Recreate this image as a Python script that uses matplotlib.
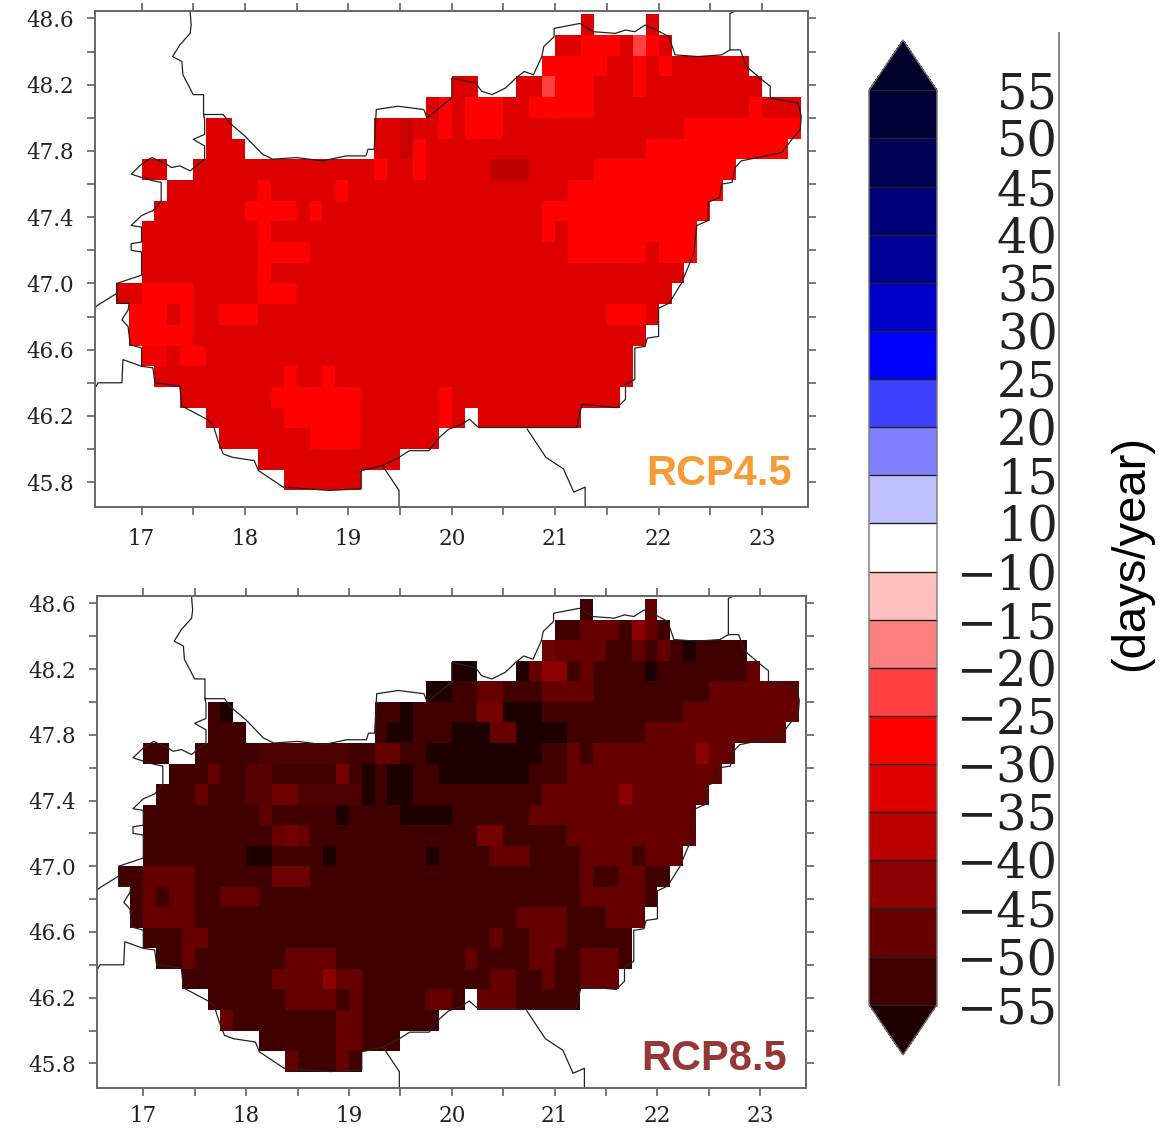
# number of frost days change over Hungary, RCP4.5 and RCP8.5, with shared colorbar
import numpy as np
import matplotlib
matplotlib.use('Agg')
import matplotlib.pyplot as plt
from matplotlib.colors import ListedColormap, BoundaryNorm, LinearSegmentedColormap, Normalize
from matplotlib.lines import Line2D
from matplotlib.cm import ScalarMappable

# colour classes, top of the bar to the bottom
levels = [-55, -50, -45, -40, -35, -30, -25, -20, -15, -10, 10, 15, 20, 25, 30, 35, 40, 45, 50, 55]
colors = ['#1e0000', '#400000', '#660000', '#8c0000', '#bb0000', '#dd0000', '#ff0000',
          '#ff4040', '#ff8080', '#ffc0c0', '#ffffff', '#c0c0ff', '#8080ff', '#4040ff',
          '#0000ff', '#0000cd', '#000096', '#000078', '#000055', '#000037', '#000028']
bar_labels = ['\u221255', '\u221250', '\u221245', '\u221240', '\u221235', '\u221230', '\u221225',
              '\u221220', '\u221215', '\u221210', '10', '15', '20', '25', '30', '35', '40', '45', '50', '55']

# 1/8 degree grid
lon_edges = np.arange(16.75, 23.376, 0.125)
lat_edges = 48.625 - 0.125 * np.arange(24)

# grid cells inside the country, one list of (west, east) per row, north to south
land_spans = [
    [(21.25, 21.375), (21.875, 22.0)],
    [(21.0, 22.125)],
    [(20.875, 22.875)],
    [(20.0, 20.25), (20.625, 23.0)],
    [(19.75, 23.375)],
    [(17.625, 17.875), (19.25, 23.375)],
    [(17.625, 18.0), (19.25, 23.25)],
    [(17.0, 17.25), (17.5, 22.75)],
    [(17.25, 22.625)],
    [(17.125, 22.5)],
    [(17.0, 22.375)],
    [(17.0, 22.375)],
    [(17.0, 22.25)],
    [(16.75, 22.125)],
    [(16.875, 22.0)],
    [(16.875, 21.875)],
    [(17.0, 21.75)],
    [(17.125, 21.75)],
    [(17.375, 21.625)],
    [(17.625, 20.125), (20.25, 21.25)],
    [(17.75, 19.875)],
    [(18.125, 19.5)],
    [(18.375, 19.125)],
]

rcp45_base = -32
# (row, west, east, value)
rcp45_cells = [
    (1, 21.25, 21.625, -27), (1, 21.75, 21.875, -22), (1, 21.875, 22.0, -27),
    (2, 20.875, 21.5, -27), (2, 21.75, 21.875, -27), (2, 22.0, 22.125, -27),
    (3, 20.875, 21.0, -22), (3, 21.0, 21.375, -27), (3, 21.75, 21.875, -27),
    (4, 19.875, 20.0, -27), (4, 20.125, 20.5, -27), (4, 20.75, 21.375, -27), (4, 22.875, 23.0, -27),
    (5, 19.875, 20.0, -27), (5, 20.125, 20.5, -27), (5, 22.25, 23.375, -27), (5, 19.5, 19.625, -35),
    (6, 21.875, 23.25, -27), (6, 19.625, 19.75, -27), (6, 19.5, 19.625, -35),
    (7, 19.25, 19.375, -27), (7, 19.625, 19.75, -27), (7, 20.375, 20.75, -37), (7, 21.375, 22.75, -27),
    (8, 18.125, 18.25, -27), (8, 18.875, 19.0, -27), (8, 21.125, 22.625, -27),
    (9, 18.0, 18.5, -27), (9, 18.625, 18.75, -27), (9, 20.875, 22.5, -27),
    (10, 18.125, 18.25, -27), (10, 20.875, 21.0, -27), (10, 21.125, 22.375, -27),
    (11, 18.125, 18.625, -27), (11, 21.125, 21.875, -27), (11, 22.0, 22.375, -27),
    (12, 18.125, 18.25, -27),
    (13, 17.0, 17.5, -27), (13, 18.125, 18.5, -27),
    (14, 16.875, 17.25, -27), (14, 17.375, 17.5, -27), (14, 17.75, 18.125, -27), (14, 21.5, 21.875, -27),
    (15, 16.875, 17.5, -27),
    (16, 17.0, 17.25, -29), (16, 17.375, 17.625, -27),
    (17, 18.375, 18.5, -27), (17, 18.75, 18.875, -27),
    (18, 18.25, 19.125, -27), (18, 19.875, 20.0, -27),
    (19, 18.375, 19.125, -27), (19, 19.875, 20.0, -27),
    (20, 18.625, 19.125, -27),
]

rcp85_base = -52
rcp85_cells = [
    (0, 21.875, 22.0, -47),
    (1, 21.25, 21.625, -47), (1, 21.75, 21.875, -42), (1, 21.875, 22.0, -47),
    (2, 20.875, 21.0, -46), (2, 21.0, 21.5, -47), (2, 21.75, 21.875, -47), (2, 22.0, 22.125, -47),
    (2, 22.25, 22.375, -57),
    (3, 20.0, 20.25, -57), (3, 20.625, 20.75, -57), (3, 20.75, 20.875, -47), (3, 20.875, 21.125, -42),
    (3, 21.25, 21.375, -47), (3, 21.875, 22.0, -57), (3, 22.875, 23.0, -47),
    (4, 19.75, 20.0, -57), (4, 20.25, 20.5, -47), (4, 20.875, 21.375, -47),
    (4, 22.5, 23.375, -47),
    (5, 17.75, 17.875, -57), (5, 19.5, 19.625, -57), (5, 20.25, 20.5, -45), (5, 20.5, 20.875, -57),
    (5, 22.25, 23.375, -47),
    (6, 19.375, 19.625, -57), (6, 20.0, 20.375, -57), (6, 20.375, 20.625, -47), (6, 20.625, 21.125, -57),
    (6, 21.875, 23.25, -47),
    (7, 18.125, 19.0, -50), (7, 19.25, 19.5, -47), (7, 19.75, 20.875, -57), (7, 21.125, 21.25, -47),
    (7, 21.375, 22.75, -47), (7, 22.375, 22.5, -42),
    (8, 17.625, 17.75, -47), (8, 18.0, 18.25, -49), (8, 18.875, 19.0, -45), (8, 19.125, 19.25, -57),
    (8, 19.375, 19.625, -57), (8, 19.875, 20.75, -57), (8, 21.125, 22.625, -47),
    (9, 17.5, 17.625, -47), (9, 18.0, 18.25, -49), (9, 18.25, 18.5, -46), (9, 18.5, 19.125, -50),
    (9, 19.125, 19.25, -57), (9, 19.375, 19.625, -57),
    (9, 20.875, 21.625, -47), (9, 21.625, 21.75, -42), (9, 21.75, 22.5, -47),
    (10, 18.125, 18.25, -48), (10, 18.875, 19.0, -57), (10, 19.5, 20.0, -57), (10, 20.75, 22.375, -47),
    (11, 18.25, 18.375, -47), (11, 18.375, 18.5, -45), (11, 18.5, 18.625, -47), (11, 20.25, 20.5, -45),
    (11, 21.125, 22.375, -47),
    (12, 18.0, 18.25, -57), (12, 18.75, 18.875, -57), (12, 19.75, 19.875, -57), (12, 20.375, 20.75, -47),
    (12, 21.25, 21.75, -47), (12, 21.875, 22.25, -47),
    (13, 17.0, 17.5, -47), (13, 18.25, 18.625, -46), (13, 21.25, 21.375, -47),
    (13, 21.625, 21.875, -47),
    (14, 17.0, 17.125, -47), (14, 17.25, 17.5, -47), (14, 17.75, 18.125, -47), (14, 21.25, 21.875, -47),
    (15, 17.0, 17.5, -47), (15, 20.625, 21.125, -47), (15, 21.5, 21.875, -47),
    (16, 17.375, 17.625, -47), (16, 20.375, 20.5, -47), (16, 20.75, 21.125, -47),
    (17, 17.375, 17.5, -47), (17, 18.375, 18.875, -47), (17, 20.125, 20.25, -47), (17, 20.75, 21.0, -47),
    (17, 21.25, 21.625, -47),
    (18, 18.25, 19.125, -47), (18, 18.75, 18.875, -42), (18, 20.375, 20.625, -47), (18, 20.875, 21.0, -47),
    (18, 21.25, 21.625, -47),
    (19, 18.375, 18.875, -47), (19, 19.0, 19.125, -47), (19, 19.75, 20.0, -47), (19, 20.25, 20.625, -47),
    (20, 17.75, 17.875, -47), (20, 18.875, 19.125, -47),
    (21, 18.875, 19.125, -47),
    (22, 18.375, 18.5, -47), (22, 18.875, 19.0, -47),
]

# national border and the borders leaving it, lon and lat
border_lon = [17.47, 17.48, 17.47, 17.37, 17.30, 17.39, 17.40, 17.50, 17.60, 17.60, 17.79, 17.85, 18.00,
              18.17, 18.27, 18.50, 18.75, 18.98, 19.17, 19.19, 19.25, 19.27, 19.48, 19.73, 19.76, 20.00,
              20.00, 20.23, 20.29,
              20.39, 20.52, 20.62, 20.70, 20.79, 20.87, 20.89, 20.99, 20.99, 21.24, 21.37, 21.58, 21.68,
              21.77, 21.87, 21.98, 22.10, 22.16, 22.38, 22.61, 22.69, 22.79, 22.85, 22.98, 23.08, 23.08,
              23.35, 23.38, 23.37, 23.29, 23.19, 22.80, 22.74, 22.71, 22.61, 22.59, 22.48, 22.48, 22.37,
              22.34, 22.22, 22.16, 22.10, 22.00, 22.00, 21.89, 21.87, 21.77, 21.77, 21.68, 21.68, 21.60,
              21.26, 21.23, 21.21, 20.73, 20.26, 20.17, 20.10, 19.97, 19.88, 19.78, 19.59, 19.49, 19.33,
              19.125, 19.125, 18.82, 18.37, 18.13, 18.09, 17.88, 17.79, 17.74, 17.69, 17.63, 17.39, 17.37,
              17.13, 17.11, 17.00, 17.00, 16.89, 16.87, 16.81, 16.87, 16.88, 16.76, 16.76, 17.00, 17.00,
              16.90, 16.90, 17.00, 17.00, 16.90, 17.00, 17.11, 17.19, 17.19, 17.11, 17.00, 16.90, 17.00,
              17.10, 17.24, 17.29, 17.37, 17.47, 17.61, 17.61, 17.50, 17.61, 17.61, 17.60]
border_lat = [48.64, 48.56, 48.51, 48.44, 48.37, 48.34, 48.26, 48.14, 48.14, 48.02, 48.02, 47.97, 47.89,
              47.78, 47.75, 47.76, 47.74, 47.77, 47.77, 47.81, 47.81, 48.05, 48.07, 48.05, 48.00, 48.12,
              48.24, 48.21, 48.16,
              48.14, 48.18, 48.24, 48.28, 48.26, 48.37, 48.43, 48.49, 48.54, 48.57, 48.52, 48.51, 48.53,
              48.52, 48.56, 48.53, 48.49, 48.38, 48.37, 48.38, 48.41, 48.41, 48.31, 48.24, 48.19, 48.12,
              48.09, 48.01, 47.93, 47.87, 47.79, 47.74, 47.70, 47.61, 47.60, 47.52, 47.49, 47.38, 47.35,
              47.18, 47.00, 46.94, 46.88, 46.85, 46.68, 46.67, 46.62, 46.61, 46.42, 46.39, 46.30, 46.25,
              46.27, 46.20, 46.13, 46.13, 46.13, 46.18, 46.15, 46.12, 46.07, 45.99, 45.99, 45.95, 45.90,
              45.87, 45.76, 45.75, 45.77, 45.87, 45.93, 45.95, 45.97, 46.05, 46.15, 46.18, 46.26, 46.38,
              46.40, 46.49, 46.50, 46.61, 46.63, 46.74, 46.78, 46.84, 46.88, 46.88, 47.00, 47.05, 47.19,
              47.20, 47.24, 47.25, 47.34, 47.35, 47.41, 47.44, 47.50, 47.61, 47.62, 47.64, 47.66, 47.72,
              47.76, 47.72, 47.70, 47.71, 47.68, 47.75, 47.83, 47.87, 47.90, 47.99, 48.02]
branches = [
    ([22.69, 22.69, 22.74], [48.41, 48.63, 48.645]),
    ([19.33, 19.49, 19.49], [45.90, 45.75, 45.64]),
    ([20.73, 20.91, 21.08, 21.18, 21.29, 21.29], [46.12, 45.95, 45.88, 45.74, 45.77, 45.65]),
    ([17.00, 16.82, 16.81, 16.58, 16.55], [46.50, 46.54, 46.40, 46.40, 46.37]),
    ([16.76, 16.58, 16.54], [46.94, 46.87, 46.85]),
]

W, H = 1173, 1128
plt.rcParams['font.family'] = 'DejaVu Serif'
fig = plt.figure(figsize=(W / 100, H / 100), dpi=100)

cmap = ListedColormap(colors[1:-1])
cmap.set_under(colors[0])
cmap.set_over(colors[-1])
norm = BoundaryNorm(levels, cmap.N)

# the maps are a little smoothed, so their values run between the class colours
map_vmin, map_vmax = -57, -22
map_stops = [(-57, '#1e0000'), (-52, '#400000'), (-47, '#660000'), (-42, '#8c0000'),
             (-37, '#bb0000'), (-32, '#dd0000'), (-27, '#ff0000'), (-22, '#ff4040')]
map_cmap = LinearSegmentedColormap.from_list(
    'frost', [((v - map_vmin) / (map_vmax - map_vmin), c) for v, c in map_stops])
map_norm = Normalize(map_vmin, map_vmax)


def make_grid(base, cells):
    grid = np.full((len(lat_edges) - 1, len(lon_edges) - 1), np.nan)
    centers = lon_edges[:-1] + 0.0625
    for row, spans in enumerate(land_spans):
        for west, east in spans:
            grid[row, (centers > west) & (centers < east)] = base
    for row, west, east, value in cells:
        sel = (centers > west) & (centers < east) & ~np.isnan(grid[row])
        grid[row, sel] = value
    return grid


def draw_panel(box, base, cells, xpad):
    left, top, right, bottom = box
    ax = fig.add_axes([left / W, 1 - bottom / H, (right - left) / W, (bottom - top) / H])
    ax.pcolormesh(lon_edges, lat_edges, make_grid(base, cells), cmap=map_cmap, norm=map_norm)
    ax.plot(border_lon, border_lat, color='#222222', lw=0.9)
    for blon, blat in branches:
        ax.plot(blon, blat, color='#222222', lw=0.9)
    ax.set_xlim(16.55, 23.445)
    ax.set_ylim(45.65, 48.645)
    ax.set_xticks(range(17, 24))
    ax.set_xticks(np.arange(17.5, 23.5, 1), minor=True)
    ax.set_yticks(np.arange(45.8, 48.7, 0.4))
    ax.set_yticks(np.arange(46.0, 48.6, 0.4), minor=True)
    ax.yaxis.set_major_formatter('{x:.1f}')
    ax.tick_params(which='both', top=True, right=True, direction='out', color='#555555',
                   length=6, width=1.1, labelsize=15.5, labelcolor='#222222')
    ax.tick_params(axis='x', which='major', pad=xpad)
    ax.tick_params(axis='y', which='major', pad=9)
    for s in ax.spines.values():
        s.set_color('#666666')
        s.set_linewidth(1.4)
    return ax


draw_panel((95, 11, 808, 507), rcp45_base, rcp45_cells, 9)
draw_panel((97, 596, 806, 1088), rcp85_base, rcp85_cells, 6.5)

fig.text(792 / W, 1 - 474 / H, 'RCP4.5', color='#F79A38', fontsize=30, fontweight='bold',
         family='Liberation Sans', ha='right', va='center')
fig.text(787 / W, 1 - 1059 / H, 'RCP8.5', color='#953735', fontsize=30, fontweight='bold',
         family='Liberation Sans', ha='right', va='center')

# colorbar, the axes box includes the two end triangles
cax = fig.add_axes([869 / W, 1 - 1055 / H, 68 / W, 1015 / H])
cb = fig.colorbar(ScalarMappable(norm=norm, cmap=cmap), cax=cax, extend='both', extendfrac=0.055,
                  spacing='uniform', drawedges=True, ticks=levels)
cb.ax.set_yticklabels(bar_labels, ha='right')
cb.ax.tick_params(length=0, pad=87, labelsize=34.5, labelcolor='#222222')
cb.ax.minorticks_off()
cb.outline.set_edgecolor('#777777')
cb.outline.set_linewidth(1.0)
cb.dividers.set_color('#222222')
cb.dividers.set_linewidth(1.0)

fig.add_artist(Line2D([1059 / W, 1059 / W], [1 - 33 / H, 1 - 1085 / H], color='#888888', lw=1.4))
fig.text(1131 / W, 1 - 553 / H, '(days/year)', rotation=90, fontsize=34, family='Liberation Sans',
         color='black', ha='center', va='center')

fig.savefig('out.png', dpi=100)
